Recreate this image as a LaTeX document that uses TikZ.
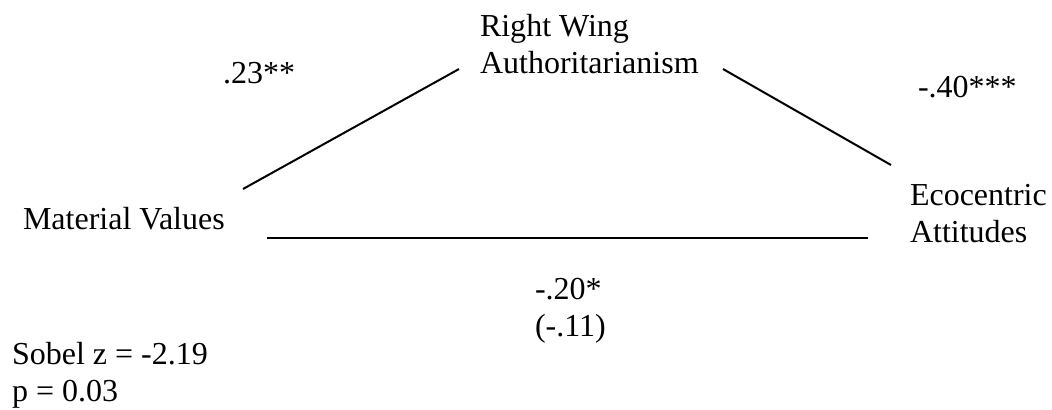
\documentclass[tikz,border=0pt]{standalone}
\usepackage{fontspec}
\setmainfont{Liberation Serif}
\begin{document}
\begin{tikzpicture}[x=0.5pt,y=-0.5pt,
  lbl/.style={inner sep=0pt, outer sep=0pt, anchor=base west, align=left,
    font=\fontsize{16}{18.5}\selectfont},
  link/.style={line width=1pt, line cap=butt}]
\fill[white] (0,0) rectangle (1052,409);
\useasboundingbox (0,0) rectangle (1052,409);
% variables (multi-line nodes are placed at the baseline of their last line)
\node[lbl] (rwa) at (480,73) {Right Wing\\Authoritarianism};
\node[lbl] (mv) at (23,229) {Material Values};
\node[lbl] (eco) at (910,242) {Ecocentric\\Attitudes};
% coefficients
\node[lbl] (a) at (223,83) {.23**};
\node[lbl] (b) at (918,97) {-.40***};
\node[lbl] (c) at (535,336) {-.20*\\(-.11)};
\node[lbl] (sobel) at (12,401) {Sobel z = -2.19\\p = 0.03};
% connector end points, placed relative to the nodes
\coordinate (mvA) at ([shift={(220,-40)}]mv.base west);
\coordinate (mvB) at ([shift={(244,9)}]mv.base west);
\coordinate (rwaL) at ([shift={(-21,-4)}]rwa.base west);
\coordinate (rwaR) at ([shift={(243,-4)}]rwa.base west);
\coordinate (ecoA) at ([shift={(-19,-77)}]eco.base west);
\coordinate (ecoB) at ([shift={(-42,-4)}]eco.base west);
% connectors
\draw[link] (mvA) -- (rwaL);
\draw[link] (rwaR) -- (ecoA);
\draw[link] (mvB) -- (ecoB);
\end{tikzpicture}
\end{document}
